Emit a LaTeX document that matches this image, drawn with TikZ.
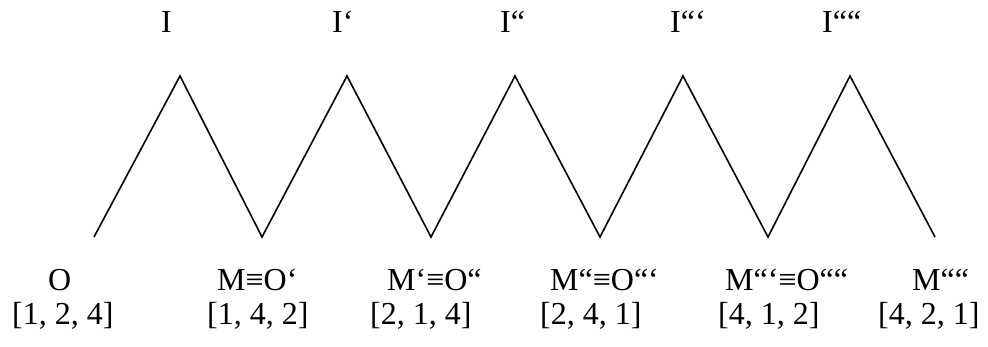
\documentclass[tikz,border=0pt]{standalone}
\usepackage{fontspec}
\setmainfont{Liberation Serif}
\usetikzlibrary{positioning}

\begin{document}
\begin{tikzpicture}[%
    x=1pt, y=1pt,
    every node/.style={inner sep=0pt,anchor=base west,font=\fontsize{32}{38}\selectfont},
    zigzag/.style={line width=1.6pt,line join=miter}
]
\useasboundingbox (0,0) rectangle (988,347);

% ---------------- Zigzag ----------------
\foreach \i/\x in {0/94,1/262,2/431,3/600,4/768,5/935} {
    \coordinate (v\i) at (\x,110);
}
\foreach \i/\x in {1/180,2/347,3/515,4/683,5/850} {
    \coordinate (p\i) at (\x,271);
}
\draw[zigzag] (v0) -- (p1) -- (v1) -- (p2) -- (v2) -- (p3) -- (v3)
    -- (p4) -- (v4) -- (p5) -- (v5);

% ---------------- Top labels ----------------
\node (i1) at (161,314) {I};
\node (i2) at (332,314) {I‘};
\node (i3) at (500,314) {I“};
\node (i4) at (670,314) {I“‘};
\node (i5) at (822,314) {I““};

% ---------------- Bottom labels ----------------
\node (o0) at (48,56)  {O};
\node (o1) at (217,56) {M≡O‘};
\node (o2) at (387,56) {M‘≡O“};
\node (o3) at (550,56) {M“≡O“‘};
\node (o4) at (725,56) {M“‘≡O““};
\node (o5) at (912,56) {M““};

\node (b0) at (12,22)  {[1, 2, 4]};
\node (b1) at (207,22) {[1, 4, 2]};
\node (b2) at (370,22) {[2, 1, 4]};
\node (b3) at (540,22) {[2, 4, 1]};
\node (b4) at (718,22) {[4, 1, 2]};
\node (b5) at (878,22) {[4, 2, 1]};

\end{tikzpicture}
\end{document}
